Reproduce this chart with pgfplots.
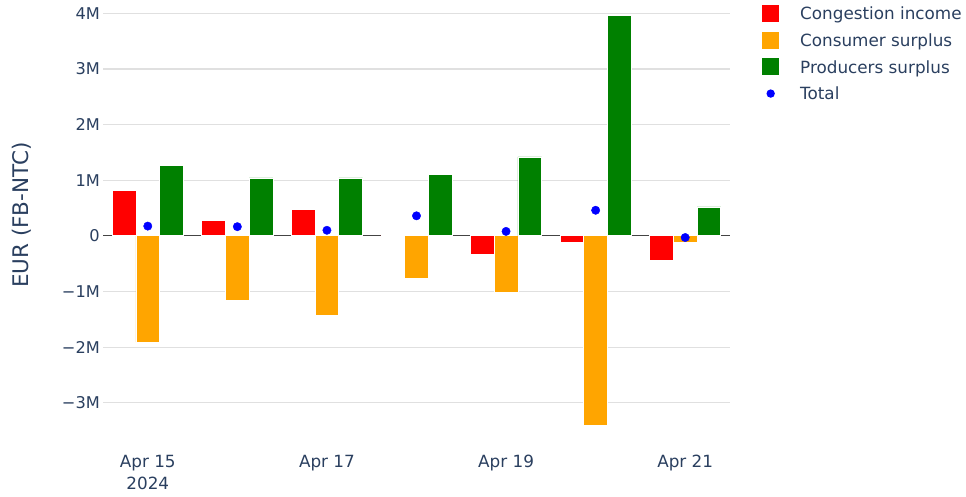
\documentclass[border=0pt]{standalone}
\usepackage{fontspec}
\setmainfont{DejaVu Sans}
\usepackage{pgfplots}
\pgfplotsset{compat=1.18}

\definecolor{txt}{HTML}{2A3F5F}
\definecolor{gridc}{HTML}{E0E0E0}
\definecolor{zeroc}{HTML}{444444}
\definecolor{cong}{HTML}{FF0000}
\definecolor{cons}{HTML}{FFA500}
\definecolor{prod}{HTML}{008000}
\definecolor{tot}{HTML}{0000FF}

\pgfplotsset{
  sqlegend/.style={legend image code/.code={
      \path[draw=none, fill=none] (0pt,-8.5pt) rectangle (38pt,8.5pt);
      \fill[draw=none, fill=#1] (0pt,-8.5pt) rectangle (17pt,8.5pt);}},
  dotlegend/.style={legend image code/.code={
      \path[draw=none, fill=none] (0pt,-8.5pt) rectangle (38pt,8.5pt);
      \fill[draw=none, fill=tot] (8.5pt,0pt) circle (4.2pt);}},
  barstyle/.style={ybar, bar width=0.265, draw=white, line width=0.7pt,
    fill=#1, sqlegend=#1},
}

\begin{document}
\begin{tikzpicture}
\useasboundingbox (0,0) rectangle (966pt,497pt);
\begin{axis}[
  at={(103pt,57pt)}, anchor=south west,
  scale only axis, width=627pt, height=435pt,
  xmin=-0.5, xmax=6.5,
  ymin=-3670000, ymax=4150000,
  axis line style={draw=none},
  major tick length=0pt,
  xtick={0,2,4,6},
  xticklabels={Apr 15\\2024, Apr 17, Apr 19, Apr 21},
  xticklabel style={align=center, inner sep=0pt, yshift=-15pt,
    font=\fontsize{16.8}{22}\selectfont, text=txt},
  ytick={-3000000,-2000000,-1000000,1000000,2000000,3000000,4000000},
  yticklabels={−3M,−2M,−1M,1M,2M,3M,4M},
  extra y ticks={0}, extra y tick labels={0},
  extra y tick style={grid style={draw=zeroc, line width=1.3pt}},
  yticklabel style={anchor=east, inner sep=0pt, xshift=-3pt,
    font=\fontsize{16.2}{19}\selectfont, text=txt},
  ymajorgrids, grid style={draw=gridc, line width=1.2pt},
  ylabel={EUR (FB-NTC)},
  ylabel style={at={(axis description cs:-0.129,0.517)}, anchor=center,
    font=\fontsize{21.5}{25}\selectfont, text=txt},
  legend cell align=left,
  legend style={at={(axis description cs:1.051,1.0005)}, anchor=north west,
    draw=none, fill=none, inner xsep=0pt, inner ysep=0pt, row sep=9.7pt,
    font=\fontsize{16.8}{20}\selectfont, text=txt,
    nodes={inner sep=0pt, text height=12.3pt, text depth=0pt}},
]

% congestion income
\addplot[barstyle=cong, bar shift=-0.265] coordinates {
  (0,810000) (1,275000) (2,480000) (3,15000) (4,-330000) (5,-110000) (6,-440000)
};
\addlegendentry{Congestion income}

% consumer surplus
\addplot[barstyle=cons, bar shift=0] coordinates {
  (0,-1910000) (1,-1160000) (2,-1430000) (3,-770000) (4,-1010000) (5,-3400000) (6,-110000)
};
\addlegendentry{Consumer surplus}

% producers surplus
\addplot[barstyle=prod, bar shift=0.265] coordinates {
  (0,1270000) (1,1040000) (2,1040000) (3,1110000) (4,1420000) (5,3970000) (6,520000)
};
\addlegendentry{Producers surplus}

% total
\addplot[only marks, mark=*, mark size=4.2pt, color=tot, mark options={draw=none},
  dotlegend] coordinates {
  (0,175000) (1,165000) (2,100000) (3,360000) (4,80000) (5,460000) (6,-30000)
};
\addlegendentry{Total}

\end{axis}
\end{tikzpicture}
\end{document}
